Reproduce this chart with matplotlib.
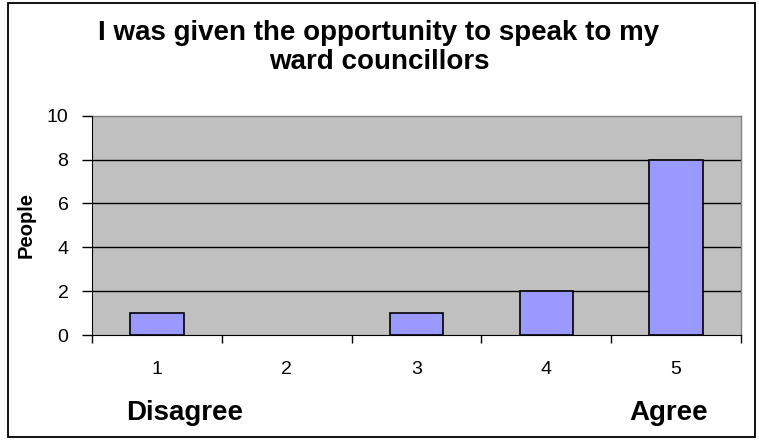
import matplotlib
matplotlib.use("Agg")
import matplotlib.pyplot as plt
from matplotlib.patches import Rectangle

categories = ["1", "2", "3", "4", "5"]
values = [1, 0, 1, 2, 8]
yticks = [0, 2, 4, 6, 8, 10]
title = "I was given the opportunity to speak to my\nward councillors"

plt.rcParams['font.family'] = ['Liberation Sans', 'DejaVu Sans']

fig = plt.figure(figsize=(7.59, 4.43), dpi=100)
fig.patch.set_facecolor("white")
ax = fig.add_axes([92/759, (443-335)/443, (741-92)/759, (335-115.7)/443])
ax.set_facecolor("#C0C0C0")

x = list(range(1, len(categories)+1))
lws = [1.2 if v > 0 else 0 for v in values]
ax.bar(x, values, width=0.41, color="#9999FF", edgecolor="black", linewidth=lws, zorder=3)

ax.set_xlim(0.5, len(categories)+0.5)
ax.set_ylim(0, 10)
ax.set_yticks(yticks)
ax.set_yticklabels([str(t) for t in yticks], fontsize=14)
for t in yticks[1:-1]:
    ax.axhline(t, color="black", linewidth=1, zorder=1)

ax.set_xticks([i + 0.5 for i in range(0, len(categories)+1)])
ax.set_xticklabels([])
ax.set_xticks(x, minor=True)
ax.set_xticklabels(categories, minor=True, fontsize=14)
ax.tick_params(axis='x', which='minor', length=0, pad=19)
ax.tick_params(axis='x', which='major', length=6, width=1, direction='out')
ax.tick_params(axis='y', length=7, width=1, direction='out', pad=10)

for side in ['top', 'right']:
    ax.spines[side].set_color("#808080")
    ax.spines[side].set_linewidth(1)
ax.spines['left'].set_color("black")
ax.spines['bottom'].set_color("black")
ax.spines['left'].set_zorder(4)
ax.spines['bottom'].set_zorder(4)

ax.set_ylabel("People", fontsize=14.5, fontweight='bold')
ax.yaxis.set_label_coords((36-92)/649, 0.5)

fig.text(379/759, 1 - 47.5/443, title, ha='center', va='center', fontsize=20,
         fontweight='bold', linespacing=1.12)
fig.text(185/759, 1 - 413/443, "Disagree", ha='center', va='center', fontsize=20, fontweight='bold')
fig.text(669/759, 1 - 413/443, "Agree", ha='center', va='center', fontsize=20, fontweight='bold')

fig.add_artist(Rectangle((8/759, 6/443), (755-8)/759, (440-6)/443, transform=fig.transFigure,
                         fill=False, edgecolor="black", linewidth=1.3))

fig.savefig("out.png", dpi=100)
